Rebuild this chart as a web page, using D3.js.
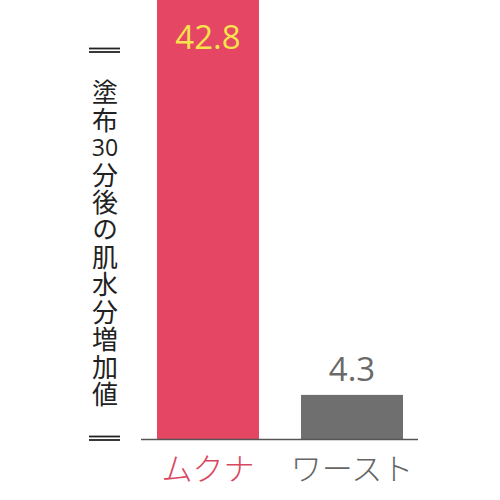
<!DOCTYPE html>
<html lang="ja">
<head>
    <meta charset="UTF-8">
    <title>肌水分増加値</title>
    <style>
        body { margin: 0; background: #fff; }
        .value-label { font-family: "Open Sans", sans-serif; font-size: 33px; }
        .cat-label { font-family: "Noto Sans CJK JP", sans-serif; font-size: 31px; font-weight: 300; }
        .y-label { font-family: "Noto Sans CJK JP", sans-serif; font-size: 26px; fill: #222; }
        .y-label.vert { writing-mode: vertical-rl; text-orientation: upright; letter-spacing: 1.45px; }
    </style>
</head>
<body>
    <svg width="500" height="500"></svg>

    <script src="https://d3js.org/d3.v7.min.js"></script>
    <script>

        // Data
        const categories = ['ムクナ', 'ワースト'];
        const values = [42.8, 4.3];
        const valueText = ['42.8', '4.3'];
        // title pieces: [text, first cell, cell count]; '30' sits sideways in one cell
        const yLabelParts = [['塗布', 0, 2], ['30', 2, 1], ['分後の肌水分増加値', 3, 9]];

        const barColors = ['#e44663', '#6f6f6f'];
        const valueColors = ['#f7e34d', '#6a6a6a'];
        const catColors = ['#d9475f', '#666666'];

        const svg = d3.select('svg');
        const baseY = 439;

        const xScale = d3.scaleBand()
            .domain(categories)
            .range([136, 424])
            .paddingInner(0.2917)
            .paddingOuter(0.1458);

        const yScale = d3.scaleLinear()
            .domain([0, 42.8])
            .range([baseY, 0]);

        const data = categories.map(function (c, i) {
            return { cat: c, value: values[i], text: valueText[i], i: i };
        });

        // Bars
        svg.selectAll('rect.bar')
            .data(data)
            .enter()
            .append('rect')
            .attr('class', 'bar')
            .attr('x', d => xScale(d.cat))
            .attr('width', xScale.bandwidth())
            .attr('y', d => yScale(d.value))
            .attr('height', d => baseY - yScale(d.value))
            .attr('fill', d => barColors[d.i]);

        // Baseline
        svg.append('line')
            .attr('x1', 141)
            .attr('x2', 418)
            .attr('y1', baseY + 0.5)
            .attr('y2', baseY + 0.5)
            .attr('stroke', '#555')
            .attr('stroke-width', 1.5);

        // Value labels: inside the tall bar, above the short one
        svg.selectAll('text.value-label')
            .data(data)
            .enter()
            .append('text')
            .attr('class', 'value-label')
            .attr('x', d => xScale(d.cat) + xScale.bandwidth() / 2)
            .attr('y', d => d.i === 0 ? yScale(d.value) + 49 : yScale(d.value) - 14)
            .attr('text-anchor', 'middle')
            .attr('fill', d => valueColors[d.i])
            .text(d => d.text);

        // Category labels
        svg.selectAll('text.cat-label')
            .data(data)
            .enter()
            .append('text')
            .attr('class', 'cat-label')
            .attr('x', d => xScale(d.cat) + xScale.bandwidth() / 2)
            .attr('y', 480)
            .attr('text-anchor', 'middle')
            .attr('fill', d => catColors[d.i])
            .text(d => d.cat);

        // Vertical axis title
        const cellTop = 79.3, cell = 27.45;

        svg.selectAll('text.y-label')
            .data(yLabelParts)
            .enter()
            .append('text')
            .attr('class', d => d[0] === '30' ? 'y-label' : 'y-label vert')
            .attr('x', 105)
            .attr('y', d => cellTop + cell * (d[1] + d[2] / 2))
            .attr('dy', d => d[0] === '30' ? '0.36em' : null)
            .attr('text-anchor', 'middle')
            .style('font-size', d => d[0] === '30' ? '23px' : null)
            .style('font-family', d => d[0] === '30' ? '"Open Sans", sans-serif' : null)
            .text(d => d[0]);

        // Double-rule marks at the ends of the title
        const ruleYs = [48.5, 52, 436.5, 440];
        svg.selectAll('line.rule')
            .data(ruleYs)
            .enter()
            .append('line')
            .attr('class', 'rule')
            .attr('x1', 89)
            .attr('x2', 120)
            .attr('y1', d => d)
            .attr('y2', d => d)
            .attr('stroke', '#222')
            .attr('stroke-width', 1.8);

    </script>
</body>
</html>
